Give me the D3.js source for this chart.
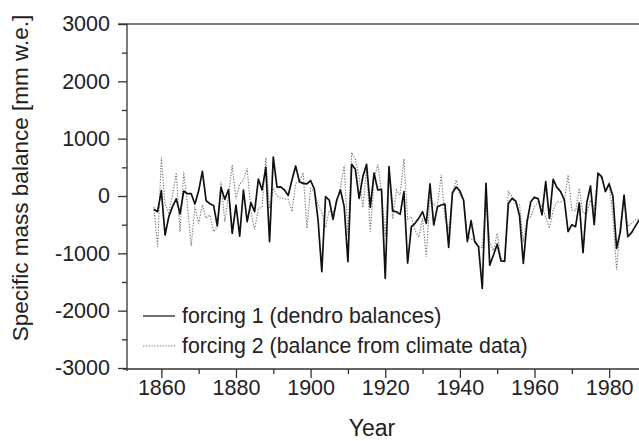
<!DOCTYPE html>
<html>
<head>
<meta charset="utf-8">
<script src="https://cdn.jsdelivr.net/npm/d3@7"></script>
<style>
  html, body { margin: 0; padding: 0; background: #fff; }
  svg { display: block; font-family: "Liberation Sans", Arial, sans-serif; }
  .axis text { fill: #222; font-size: 21.5px; }
  .axis path, .axis line { stroke: #333; stroke-width: 1.3; }
</style>
</head>
<body>
<svg id="chart" width="639" height="441"></svg>
<script>
const START_YEAR = 1858;

// forcing 1 (dendro balances), mm w.e., one value per year from 1858
const forcing1 = [
  -230, -274, 95, -681, -360, -186, -50, -310, 87, 40,
  40, -140, 90, 430, -80, -135, -165, -520, 150, -58,
  110, -652, -157, -700, 105, -448, -116, -274, 295, 105,
  500, -797, 680, 155, 160, 105, 10, 279, 524, 250,
  220, 210, 270, 120, -419, -1321, -12, -70, -407, -70,
  105, -186, -1147, 553, 466, -41, 338, 553, -200, 400,
  105, 116, -1438, 512, -260, -274, -320, 76, -1170, -535,
  -477, -390, -274, -477, 210, -506, -186, -157, -140, -896,
  52, 157, 90, -75, -797, -430, -800, -885, -1612, 221,
  -1205, -1030, -840, -1130, -1140, -130, -40, -90, -350, -1176,
  -450, -100, -20, -50, -330, 250, -390, 290, 150, 76,
  -70, -620, -500, -535, -120, -990, -120, 175, -500, 400,
  340, 76, 210, 0, -914, -620, 17, -710, -640, -530,
  -420
];

// forcing 2 (balance from climate data), same years
const forcing2 = [
  -190, -885, 670, -150, -290, 10, 410, -622, 422, -150,
  -873, -186, -477, -157, -390, -332, -622, -535, 250, -450,
  17, 541, -55, 205, 279, 483, -260, -582, -230, -186,
  665, -215, 134, 0, -41, -50, -60, -274, 221, 250,
  407, -565, 134, 76, -157, -274, -550, -250, -300, -100,
  150, 541, -700, 757, 640, 337, -198, 480, -622, 300,
  550, 76, -700, 490, -400, 105, 17, 650, -400, -360,
  -600, -720, -390, -1060, -12, -157, -157, 370, -390, -600,
  47, 280, 17, -70, -700, -750, -768, -880, -900, -100,
  -800, -950, -650, -1090, -1100, 76, -12, -157, -157, -800,
  -400, -360, -186, -99, -186, -360, -564, -244, -100, -99,
  -70, 367, -244, -260, 134, -300, -300, -70, -215, 367,
  308, 105, 221, -360, -1292, -480, 0, -530, -480, -420,
  -400
];

const yMajor = [-3000, -2000, -1000, 0, 1000, 2000, 3000];
const yMinor = [-2500, -1500, -500, 500, 1500, 2500];
const xMajor = [1860, 1880, 1900, 1920, 1940, 1960, 1980];
const xMinor = [1870, 1890, 1910, 1930, 1950, 1970];

const legendLabels = [
  'forcing 1 (dendro balances)',
  'forcing 2 (balance from climate data)'
];

const margin = { left: 127, right: 0, top: 24, bottom: 73 };
const width = 639;
const height = 441;

const svg = d3.select('#chart');

const x = d3.scaleLinear()
  .domain([1850.8, 1988])
  .range([margin.left, width - margin.right]);

const y = d3.scaleLinear()
  .domain([-3000, 3000])
  .range([height - margin.bottom, margin.top]);

svg.append('defs').append('clipPath')
    .attr('id', 'plot-clip')
  .append('rect')
    .attr('x', margin.left)
    .attr('y', 0)
    .attr('width', width - margin.left)
    .attr('height', height);

// top frame line
svg.append('line')
    .attr('x1', x.range()[0] - 9)
    .attr('x2', width)
    .attr('y1', y(3000))
    .attr('y2', y(3000))
    .attr('stroke', '#555')
    .attr('stroke-width', 1.3);

// y axis
const yAxis = svg.append('g')
    .attr('class', 'axis')
    .attr('transform', `translate(${margin.left},0)`)
    .call(d3.axisLeft(y)
      .tickValues(yMajor)
      .tickSize(9)
      .tickSizeOuter(0)
      .tickPadding(8)
      .tickFormat(d => String(d)));
yAxis.select('.domain').attr('d', `M0,${y(3000)}V${y(-3000) + 3}`);

svg.append('g')
    .attr('class', 'axis')
    .attr('transform', `translate(${margin.left},0)`)
    .call(d3.axisLeft(y).tickValues(yMinor).tickSize(5).tickFormat(''))
    .select('.domain').remove();

// x axis
const xAxis = svg.append('g')
    .attr('class', 'axis')
    .attr('transform', `translate(0,${y(-3000) + 1})`)
    .call(d3.axisBottom(x)
      .tickValues(xMajor)
      .tickSize(9)
      .tickSizeOuter(0)
      .tickPadding(2)
      .tickFormat(d => String(d)));
xAxis.select('.domain').attr('d', `M${margin.left - 4},0H${width}`);

svg.append('g')
    .attr('class', 'axis')
    .attr('transform', `translate(0,${y(-3000) + 1})`)
    .call(d3.axisBottom(x).tickValues(xMinor).tickSize(5).tickFormat(''))
    .select('.domain').remove();

// axis titles
svg.append('text')
    .attr('transform', `translate(20,${(y(3000) + y(-3000)) / 2 - 18}) rotate(-90)`)
    .attr('text-anchor', 'middle')
    .attr('dominant-baseline', 'central')
    .attr('fill', '#222')
    .attr('font-size', 22.5)
    .text('Specific mass balance [mm w.e.]');

svg.append('text')
    .attr('x', 372)
    .attr('y', 436)
    .attr('text-anchor', 'middle')
    .attr('fill', '#222')
    .attr('font-size', 23)
    .text('Year');

// series
const line = d3.line()
  .x((d, i) => x(START_YEAR + i))
  .y(d => y(d));

const plot = svg.append('g').attr('clip-path', 'url(#plot-clip)');

plot.append('path')
    .datum(forcing2)
    .attr('fill', 'none')
    .attr('stroke', '#777')
    .attr('stroke-width', 1.1)
    .attr('stroke-dasharray', '1.3 1.5')
    .attr('d', line);

plot.append('path')
    .datum(forcing1)
    .attr('fill', 'none')
    .attr('stroke', '#111')
    .attr('stroke-width', 1.7)
    .attr('stroke-linejoin', 'round')
    .attr('d', line);

// legend
const legend = svg.append('g');
const legendRows = legend.selectAll('g')
  .data(legendLabels)
  .join('g')
    .attr('transform', (d, i) => `translate(143,${316 + i * 30})`);

legendRows.append('line')
    .attr('x1', 0)
    .attr('x2', 32)
    .attr('stroke', (d, i) => i === 0 ? '#222' : '#777')
    .attr('stroke-width', (d, i) => i === 0 ? 1.3 : 1.1)
    .attr('stroke-dasharray', (d, i) => i === 0 ? null : '1.3 1.5');

legendRows.append('text')
    .attr('x', 39)
    .attr('dominant-baseline', 'central')
    .attr('fill', '#222')
    .attr('font-size', 21.3)
    .text(d => d);
</script>
</body>
</html>
